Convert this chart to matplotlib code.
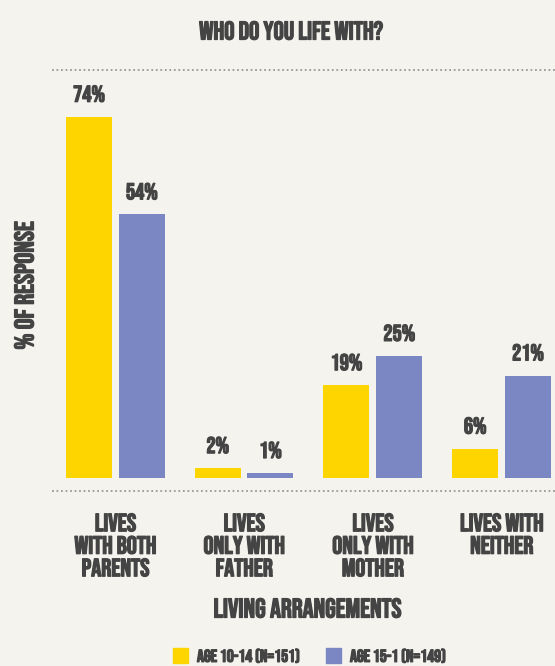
import matplotlib.pyplot as plt
import matplotlib.patheffects as pe
from matplotlib import font_manager as fm
import numpy as np

categories = ['LIVES\nWITH BOTH\nPARENTS', 'LIVES\nONLY WITH\nFATHER',
              'LIVES\nONLY WITH\nMOTHER', 'LIVES WITH\nNEITHER']
age_10_14 = [74, 2, 19, 6]
age_15_1 = [54, 1, 25, 21]
series_names = ['AGE 10-14 (N=151)', 'AGE 15-1 (N=149)']

bg = '#F4F3EE'
txt = '#444444'
yellow = '#FFD500'
purple = '#7B87C2'

# pick a condensed display face if one is around
installed = {f.name for f in fm.fontManager.ttflist}
for cand in ['Bebas Neue', 'Oswald', 'Roboto Condensed', 'Liberation Sans Narrow']:
    if cand in installed:
        face = cand
        break
else:
    face = 'DejaVu Sans'
plt.rcParams['font.family'] = [face, 'DejaVu Sans']

# fake a heavier weight, the face only ships one
heavy = [pe.withStroke(linewidth=0.9, foreground=txt)]

fig = plt.figure(figsize=(5.55, 6.66), dpi=100, facecolor=bg)
ax = fig.add_axes([52 / 555, 175 / 666, 503 / 555, 421 / 666], facecolor=bg)

x = np.arange(len(categories))
w = 0.357
off = 0.205
b1 = ax.bar(x - off, age_10_14, w, color=yellow)
b2 = ax.bar(x + off, age_15_1, w, color=purple)

for bars in (b1, b2):
    for r in bars:
        ax.text(r.get_x() + r.get_width() / 2, r.get_height() + 3.1,
                f'{int(r.get_height())}%', ha='center', va='baseline',
                fontsize=16.5, color=txt, path_effects=heavy)

ax.set_xlim(-0.492, 3.415)
ax.set_ylim(-2.66, 83.6)
for s in ax.spines.values():
    s.set_visible(False)
ax.set_yticks([])
ax.set_xticks([])

for i, c in enumerate(categories):
    ax.annotate(c, (x[i], 0), xycoords=('data', 'axes fraction'),
                xytext=(0, -16), textcoords='offset points', ha='center',
                va='top', fontsize=18, color=txt, linespacing=1.25,
                multialignment='center', path_effects=heavy)

for y in (83.6, -2.66):
    ax.axhline(y, color='#999999', linestyle=(0, (1, 1.5)), linewidth=1.3,
               clip_on=False)

fig.text(291 / 555, 1 - 30 / 666, 'WHO DO YOU LIFE WITH?', ha='center',
         va='center', fontsize=18.5, color=txt, path_effects=heavy)
fig.text(24 / 555, 1 - 285 / 666, '% OF RESPONSE', ha='center', va='center',
         rotation=90, fontsize=19.5, color=txt, path_effects=heavy)
fig.text(308 / 555, 1 - 608 / 666, 'LIVING ARRANGEMENTS', ha='center',
         va='center', fontsize=19.5, color=txt, path_effects=heavy)

# legend
for sx, col, name in ((173, yellow, series_names[0]), (326, purple, series_names[1])):
    fig.patches.append(plt.Rectangle((sx / 555, 1 - 663 / 666), 15 / 555, 15 / 666,
                                     transform=fig.transFigure, color=col))
    fig.text((sx + 24) / 555, 1 - 656 / 666, name, ha='left', va='center',
             fontsize=12.5, color=txt, path_effects=heavy)

fig.savefig('out.png', dpi=100, facecolor=bg)
